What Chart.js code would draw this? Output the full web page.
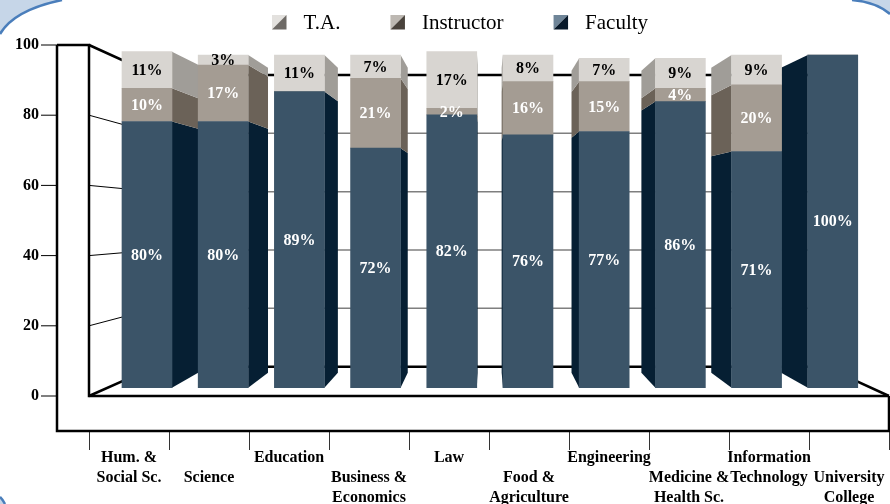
<!DOCTYPE html>
<html><head><meta charset="utf-8">
<script src="https://cdn.jsdelivr.net/npm/chart.js@4"></script>
<style>html,body{margin:0;padding:0;background:#fff}canvas{display:block}</style>
</head><body>
<canvas id="c" width="890" height="504"></canvas>
<script>
// ---- data ----
const categories = [
  ['Hum. &', 'Social Sc.'], 'Science', 'Education', ['Business &', 'Economics'], 'Law',
  ['Food &', 'Agriculture'], 'Engineering', ['Medicine &', 'Health Sc.'],
  ['Information', 'Technology'], ['University', 'College']
];
const seriesNames = ['Faculty', 'Instructor', 'T.A.'];
const faculty    = [80, 80, 89, 72, 82, 76, 77, 86, 71, 100];
const instructor = [10, 17, 0, 21, 2, 16, 15, 4, 20, 0];
const ta         = [11, 3, 11, 7, 17, 8, 7, 9, 9, 0];
const yTicks = [0, 20, 40, 60, 80, 100];

// ---- style ----
const FONT = '"Liberation Serif", "Times New Roman", serif';
const frontColors = ['#3B5468', '#A49C93', '#D8D5D1'];
const sideColors  = ['#061F33', '#6B6258', '#A09D98'];
const legendLight = ['#6F8598', '#BDB8B2', '#E3E1DE'];
const legendDark  = ['#08192A', '#4A433C', '#6E6A66'];
const labelColors = ['#FFFFFF', '#FFFFFF', '#000000'];
const VP = {x: 487, y: 208, f: 0.917};   // bar perspective
const WALL = {y: 222.5, f: 0.831, left: 155, right: 825, depthX: 32};

const seriesValues = [faculty, instructor, ta];
const datasets = seriesValues.map((arr, s) => ({
  label: seriesNames[s],
  data: arr.map((v, i) => ({x: i, y: v})),
  backgroundColor: frontColors[s],
  borderWidth: 0,
  barThickness: 50,
  xAxisID: 'xb',
  yAxisID: 'yb'
}));

function line(ctx, pts) {
  ctx.beginPath();
  ctx.moveTo(pts[0][0], pts[0][1]);
  for (let i = 1; i < pts.length; i++) ctx.lineTo(pts[i][0], pts[i][1]);
  ctx.stroke();
}

const scene = {
  id: 'scene',
  beforeDraw(chart) {
    const ctx = chart.ctx;
    ctx.save();
    ctx.fillStyle = '#FFFFFF';
    ctx.fillRect(0, 0, chart.width, chart.height);
    // decorative slide corners
    ctx.fillStyle = '#C6D6E8';
    ctx.strokeStyle = '#4A7EBB';
    ctx.lineWidth = 2.5;
    ctx.beginPath(); ctx.moveTo(0, 0); ctx.lineTo(0, 34); ctx.quadraticCurveTo(14, 10, 62, 0); ctx.closePath(); ctx.fill();
    ctx.beginPath(); ctx.moveTo(0, 34); ctx.quadraticCurveTo(14, 10, 62, 0); ctx.stroke();
    ctx.beginPath(); ctx.moveTo(852, 0); ctx.quadraticCurveTo(876, 2, 890, 14); ctx.lineTo(890, 0); ctx.closePath(); ctx.fill();
    ctx.beginPath(); ctx.moveTo(852, 0); ctx.quadraticCurveTo(876, 2, 890, 14); ctx.stroke();
    ctx.beginPath(); ctx.moveTo(0, 497); ctx.quadraticCurveTo(3, 500, 5, 504); ctx.lineTo(0, 504); ctx.closePath(); ctx.fill();
    ctx.beginPath(); ctx.moveTo(0, 497); ctx.quadraticCurveTo(3, 500, 5, 504); ctx.stroke();
    ctx.restore();
  },
  beforeDatasetsDraw(chart) {
    const ctx = chart.ctx;
    const ya = chart.scales.y, xa = chart.scales.x;
    const L = xa.left, R = xa.right, B = chart.chartArea.bottom;
    const X0 = L - WALL.depthX;
    const py = v => ya.getPixelForValue(v);
    const backY = v => WALL.y + WALL.f * (py(v) - WALL.y);
    const bl = WALL.left, br = WALL.right;
    ctx.save();
    ctx.lineCap = 'butt';
    // back wall gridlines
    ctx.strokeStyle = '#7F7F7F'; ctx.lineWidth = 1.5;
    yTicks.forEach(v => { if (v > 0 && v < 100) line(ctx, [[bl, backY(v)], [br, backY(v)]]); });
    // side wall gridlines
    ctx.strokeStyle = '#000'; ctx.lineWidth = 1;
    yTicks.forEach(v => { if (v > 0 && v < 100) line(ctx, [[L, py(v)], [bl, backY(v)]]); });
    // y tick marks
    yTicks.forEach(v => line(ctx, [[X0 - 16, py(v)], [X0, py(v)]]));
    // thick frame
    ctx.lineWidth = 2.5; ctx.lineJoin = 'miter';
    line(ctx, [[X0, py(100)], [X0, B], [R, B], [R, py(0)]]);
    line(ctx, [[X0, py(100)], [L, py(100)], [L, py(0)], [R, py(0)]]);
    line(ctx, [[L, py(100)], [bl, backY(100)], [br, backY(100)]]);
    line(ctx, [[L, py(0)], [bl, backY(0)], [br, backY(0)], [R, py(0)]]);
    // bar side faces
    const proj = (x, y) => [VP.x + VP.f * (x - VP.x), VP.y + VP.f * (y - VP.y)];
    chart.data.datasets.forEach((ds, s) => {
      const meta = chart.getDatasetMeta(s);
      ctx.fillStyle = sideColors[s];
      meta.data.forEach(el => {
        const p = el.getProps(['x', 'y', 'base', 'width'], true);
        const top = Math.min(p.y, p.base), bot = Math.max(p.y, p.base);
        if (bot - top < 0.5) return;
        const left = p.x - p.width / 2, right = p.x + p.width / 2;
        let xe;
        if (right <= VP.x) xe = right; else if (left >= VP.x) xe = left; else return;
        const a = proj(xe, top), b = proj(xe, bot);
        ctx.beginPath();
        ctx.moveTo(xe, top); ctx.lineTo(a[0], a[1]); ctx.lineTo(b[0], b[1]); ctx.lineTo(xe, bot);
        ctx.closePath(); ctx.fill();
      });
    });
    ctx.restore();
  },
  afterDatasetsDraw(chart) {
    const ctx = chart.ctx;
    ctx.save();
    ctx.font = 'bold 16px ' + FONT;
    ctx.textAlign = 'center';
    ctx.textBaseline = 'middle';
    chart.data.datasets.forEach((ds, s) => {
      const meta = chart.getDatasetMeta(s);
      ctx.fillStyle = labelColors[s];
      meta.data.forEach((el, i) => {
        const v = ds.data[i].y;
        if (!v) return;
        const p = el.getProps(['x', 'y', 'base'], true);
        ctx.fillText(v + '%', p.x, (p.y + p.base) / 2 + 1);
      });
    });
    // legend (reverse order)
    ctx.font = '21px ' + FONT;
    ctx.textAlign = 'left';
    let x = 272;
    const top = 15, sz = 14.5;
    for (let s = chart.data.datasets.length - 1; s >= 0; s--) {
      ctx.fillStyle = legendLight[s];
      ctx.beginPath(); ctx.moveTo(x, top); ctx.lineTo(x + sz, top); ctx.lineTo(x, top + sz); ctx.closePath(); ctx.fill();
      ctx.fillStyle = legendDark[s];
      ctx.beginPath(); ctx.moveTo(x + sz, top); ctx.lineTo(x + sz, top + sz); ctx.lineTo(x, top + sz); ctx.closePath(); ctx.fill();
      const tx = x + sz + 17;
      ctx.fillStyle = '#000';
      ctx.fillText(chart.data.datasets[s].label, tx, top + sz / 2 + 1);
      x = tx + ctx.measureText(chart.data.datasets[s].label).width + 50;
    }
    ctx.restore();
  }
};

new Chart(document.getElementById('c'), {
  type: 'bar',
  data: {labels: categories, datasets},
  options: {
    responsive: false,
    animation: false,
    events: [],
    layout: {padding: {top: 45, left: 0, right: 1, bottom: 0}},
    plugins: {legend: {display: false}, tooltip: {enabled: false}},
    scales: {
      x: {
        type: 'category', position: 'bottom', offset: true,
        grid: {display: true, offset: true, drawOnChartArea: false, drawTicks: true, tickLength: 19, color: '#333', lineWidth: 1},
        border: {display: false},
        ticks: {
          autoSkip: false, maxRotation: 0, minRotation: 0, padding: -2, color: '#000',
          font: {family: FONT, size: 16, weight: 'bold', lineHeight: '20px'},
          callback(val, i) {
            const l = this.getLabelForValue(val);
            const lines = Array.isArray(l) ? l : [l];
            return i % 2 ? [''].concat(lines) : lines;
          }
        },
        afterFit(scale) { scale.height = 73; scale.paddingLeft = 0; scale.paddingRight = 0; }
      },
      xb: {type: 'linear', display: false, stacked: true, offset: false, grid: {offset: false}, min: -0.761, max: 9.738},
      y: {
        type: 'linear', position: 'left', min: -9.97, max: 100,
        grid: {display: false, drawTicks: false, tickLength: 0},
        border: {display: false},
        afterBuildTicks(scale) { scale.ticks = yTicks.map(v => ({value: v})); },
        ticks: {padding: 50, color: '#000', font: {family: FONT, size: 16, weight: 'bold'}, callback: v => String(v)},
        afterFit(scale) { scale.width = 89; scale.paddingTop = 0; scale.paddingBottom = 0; }
      },
      yb: {type: 'linear', display: false, stacked: true, offset: false, min: -13.01, max: 103}
    }
  },
  plugins: [scene]
});
</script>
</body></html>
